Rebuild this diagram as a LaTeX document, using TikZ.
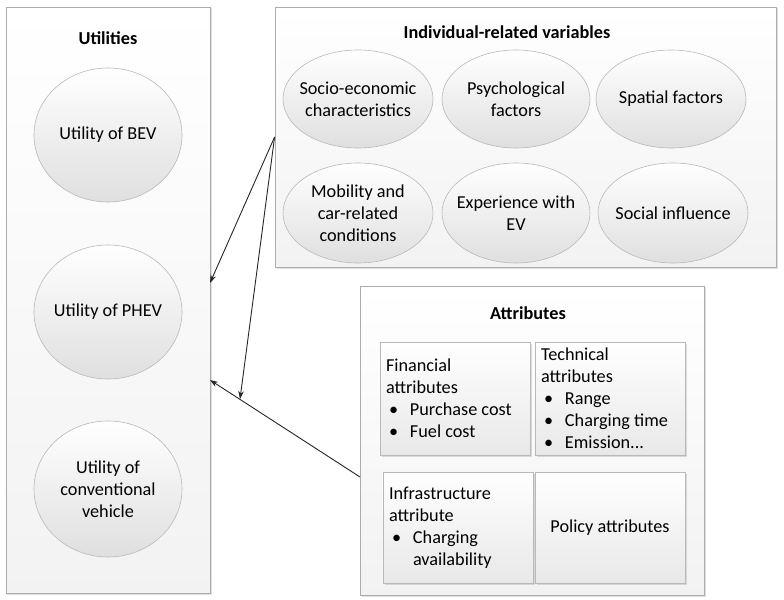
\documentclass[tikz,border=0pt]{standalone}
\usepackage{fontspec}
\setmainfont{Carlito}
\usetikzlibrary{shapes.geometric,arrows.meta,shadows}
\newcommand\mybul[1]{\makebox[24bp][l]{\hspace{3bp}\textbullet}#1}
\begin{document}
\begin{tikzpicture}[x=1bp,y=-1bp,
  font=\fontsize{18.3}{22}\selectfont,
  shad/.style={drop shadow={shadow xshift=1.5bp,shadow yshift=-1.5bp,opacity=0.25,fill=gray}},
  panel/.style={draw=gray!65, line width=0.8bp, top color=white, bottom color=gray!10, inner sep=0pt, shad},
  oval/.style={ellipse, draw=gray!55, line width=0.6bp, top color=white, bottom color=gray!25, inner xsep=-15bp, inner ysep=0pt, align=center},
  subbox/.style={draw=gray!55, line width=0.8bp, top color=white, bottom color=gray!18, minimum width=150bp, minimum height=113bp, inner xsep=6bp, inner ysep=0pt, shad},
  ttl/.style={font=\fontsize{18.3}{22}\selectfont\bfseries},
  arr/.style={-{Stealth[length=8bp,width=5.5bp]}, line width=0.9bp, draw=black!85}]
\fill[white] (0,0) rectangle (784,600);
\useasboundingbox (0,0) rectangle (784,600);

% Utilities panel
\node[panel, minimum width=204bp, minimum height=586bp] (util) at (108,300) {};
\node[ttl] (utilttl) at (108,38) {Utilities};
\node[oval, minimum width=148bp, minimum height=134bp] (bev) at (108,135) {Utility of BEV};
\node[oval, minimum width=148bp, minimum height=134bp] (phev) at (108,312) {Utility of PHEV};
\node[oval, minimum width=148bp, minimum height=136bp] (conv) at (108,489) {Utility of\\conventional\\vehicle};

% Individual-related variables panel
\node[panel, minimum width=501bp, minimum height=260bp] (ind) at (525.5,137) {};
\node[ttl] (indttl) at (507,32) {Individual-related variables};
\node[oval, minimum width=150bp, minimum height=98bp] (socio) at (358,99) {Socio-economic\\characteristics};
\node[oval, minimum width=148bp, minimum height=98bp] (psych) at (516,99) {Psychological\\factors};
\node[oval, minimum width=150bp, minimum height=98bp] (spat) at (671,99) {Spatial factors};
\node[oval, minimum width=150bp, minimum height=100bp] (mob) at (358,213) {Mobility and\\car-related\\conditions};
\node[oval, minimum width=148bp, minimum height=100bp] (exp) at (516,213) {Experience with\\EV};
\node[oval, minimum width=150bp, minimum height=100bp] (soc) at (673,213) {Social influence};

% Attributes panel
\node[panel, minimum width=344bp, minimum height=309bp] (attr) at (532,440.5) {};
\node[ttl] (attrttl) at (528,313) {Attributes};
\node[subbox] (fin) at (455,398.5) {\parbox{138bp}{Financial\\attributes\\\mybul{Purchase cost}\\\mybul{Fuel cost}}};
\node[subbox] (tech) at (610,398.5) {\parbox{138bp}{Technical\\attributes\\\mybul{Range}\\\mybul{Charging time}\\\mybul{Emission...}}};
\node[subbox, minimum height=111bp] (infra) at (458,527.5) {\parbox{138bp}{Infrastructure\\attribute\\\mybul{Charging}\\\hspace*{24bp}availability}};
\node[subbox, minimum height=111bp] (pol) at (610,527.5) {Policy attributes};

% connectors
\coordinate (u1) at (210,283);
\coordinate (u2) at (210,380);
\coordinate (a1) at (360,477);
\coordinate (m1) at (240,399);
\draw[arr] (ind.west) -- (u1);
\draw[arr] (ind.west) -- (m1);
\draw[arr] (a1) -- (u2);
\end{tikzpicture}
\end{document}
